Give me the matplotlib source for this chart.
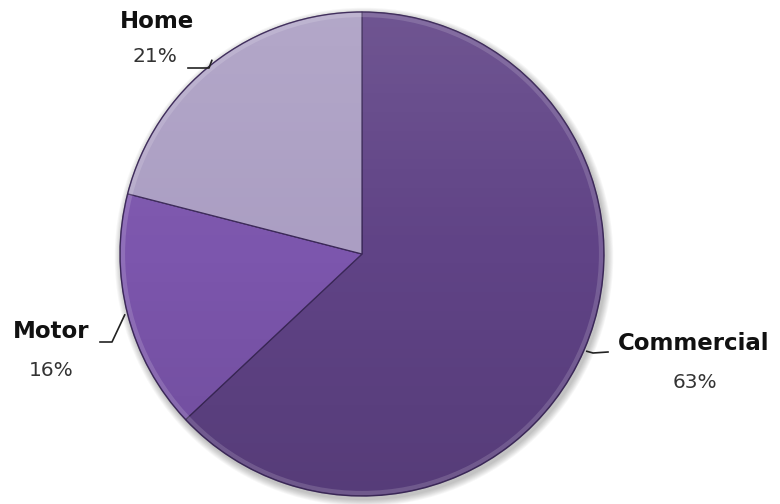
import numpy as np
import matplotlib
matplotlib.use("Agg")
import matplotlib.pyplot as plt
from matplotlib.patches import Circle

# data
labels = ["Commercial", "Motor", "Home"]
shares = [63, 16, 21]
colors = ["#604386", "#7c56ad", "#ab9ec3"]

W, H = 780, 504
CX, CY, R = 362, 254, 242


def py(y):
    """pixel row (from top) -> data y"""
    return H - y


fig = plt.figure(figsize=(W / 100, H / 100), dpi=100)
ax = fig.add_axes([0, 0, 1, 1])

# soft shadow behind the pie
for k in range(8):
    ax.add_patch(Circle((CX + 2, py(CY + 3)), R + 1 + k * 0.9,
                        facecolor="black", alpha=0.03, edgecolor="none",
                        zorder=0))

wedges, _ = ax.pie(shares, colors=colors, startangle=90, counterclock=False,
                   center=(CX, py(CY)), radius=R, frame=True,
                   wedgeprops=dict(edgecolor="#3b2858", linewidth=0.9))
for w in wedges:
    w.set_zorder(2)
ax.set_xlim(0, W)
ax.set_ylim(0, H)
ax.set_aspect("equal")
ax.axis("off")

# light-to-dark vertical shading over the pie
grad = np.linspace(1, -1, 256).reshape(-1, 1)
rgba = np.zeros((256, 1, 4))
rgba[..., :3] = np.where(grad[..., None] > 0, 1.0, 0.0)
rgba[..., 3] = np.abs(grad) * 0.10
im = ax.imshow(rgba, extent=(CX - R, CX + R, py(CY + R), py(CY - R)),
               aspect="auto", zorder=3, interpolation="bilinear")
im.set_clip_path(Circle((CX, py(CY)), R, transform=ax.transData))

# rim highlight
ax.add_patch(Circle((CX, py(CY)), R - 3, facecolor="none",
                    edgecolor="white", alpha=0.15, linewidth=3, zorder=4))
ax.add_patch(Circle((CX, py(CY)), R, facecolor="none",
                    edgecolor="#3b2858", alpha=0.35, linewidth=1, zorder=4))

# labels with leader lines (anchor on the rim at each wedge's mid angle)
label_pos = {
    "Home": ((157, 21), (155, 57), [(188, 68), (209, 68)]),
    "Motor": ((51, 331), (51, 370), [(100, 342), (112, 342)]),
    "Commercial": ((694, 343), (695, 383), [(608, 352), (593, 353)]),
}
start = 90
for lab, s in zip(labels, shares):
    mid = np.deg2rad(start - s * 3.6 / 2)
    start -= s * 3.6
    ax_x = CX + (R + 3) * np.cos(mid)
    ax_y = CY - (R + 3) * np.sin(mid)
    (lx, ly), (px, pp), pts = label_pos[lab]
    xs = [p[0] for p in pts] + [ax_x]
    ys = [py(p[1]) for p in pts] + [py(ax_y)]
    ax.plot(xs, ys, color="#222222", lw=1.2, zorder=5)
    ax.text(lx, py(ly), lab, fontsize=16.5, fontweight="bold",
            ha="center", va="center", color="#111111")
    ax.text(px, py(pp), f"{s}%", fontsize=14.5, ha="center",
            va="center", color="#333333")

fig.savefig("out.png", dpi=100, facecolor="white")
